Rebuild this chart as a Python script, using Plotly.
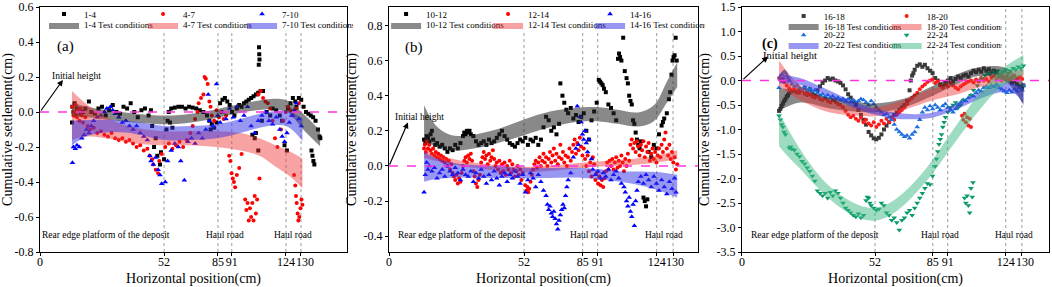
import plotly.graph_objects as go

FONT = "Liberation Serif"

# ---------------- shared axis ticks ----------------
TICK_POS = [0, 52, 74.6, 80.4, 103.1, 109.4]
TICK_TEXT = ["0", "52", "85", "91", "124", "130"]

YT_A = [-0.8, -0.6, -0.4, -0.2, 0.0, 0.2, 0.4, 0.6]
YT_A_TEXT = ["-0.8", "-0.6", "-0.4", "-0.2", "0.0", "0.2", "0.4", "0.6"]
YT_B = [-0.4, -0.2, 0.0, 0.2, 0.4, 0.6, 0.8]
YT_B_TEXT = ["-0.4", "-0.2", "0.0", "0.2", "0.4", "0.6", "0.8"]
YT_C = [-3.5, -3.0, -2.5, -2.0, -1.5, -1.0, -0.5, 0.0, 0.5, 1.0, 1.5]
YT_C_TEXT = ["-3.5", "-3.0", "-2.5", "-2.0", "-1.5", "-1.0", "-0.5", "0.0", "0.5", "1.0", "1.5"]

# ---------------- panel (a) scatter data (position, settlement) ----------------
A_1_4 = [(13.4, -0.06), (13.6, 0.03), (14.0, 0.0), (14.5, 0.05), (15.0, -0.02), (15.5, 0.02), (16.2, 0.01),
         (17.0, -0.01), (18.0, 0.0), (19.0, 0.02), (20.5, 0.06), (21.5, 0.0), (23, -0.01), (24.5, 0.02),
         (26, 0.03), (27.5, -0.02), (29, 0.01), (30.5, 0.04), (32, 0.0), (33.5, -0.01), (35, 0.03),
         (36.5, 0.02), (38, 0.05), (39.5, 0.0), (41, -0.03), (42.5, 0.01), (44, 0.02), (45.5, -0.02),
         (46.5, 0.01), (47, -0.08), (47.8, -0.2), (48.5, -0.15), (49.2, -0.25), (50.3, -0.3), (50.7, -0.23),
         (52, -0.27), (53, -0.1), (53.5, -0.05), (54, 0.0), (54.5, -0.06), (55, 0.02), (55.5, -0.09),
         (56.5, 0.025), (58, 0.03), (59.5, 0.03), (61, 0.02), (62.5, 0.03), (64, 0.025), (65.5, 0.02),
         (67, 0.01), (68.5, 0.0), (70, -0.02), (71, -0.05), (71.5, -0.1), (72, -0.07), (73, -0.09),
         (74, -0.06), (75.5, 0.05), (76.5, 0.07), (77.5, 0.08), (78.5, 0.06), (79.5, 0.04), (80.5, 0.0),
         (81.5, -0.02), (82.5, 0.02), (83.5, 0.04), (84.5, 0.03), (85.5, 0.05), (86.5, 0.06), (87.5, 0.07),
         (88.5, 0.08), (89.5, 0.09), (90.5, 0.1), (91.5, 0.11), (92.5, 0.12), (93.5, 0.12), (91.8, 0.37),
         (91.9, 0.33), (92.0, 0.3), (91.7, 0.27), (89, -0.13), (90, -0.15), (90.5, -0.12), (91.5, -0.22),
         (93, -0.05), (95, 0.0), (96.5, -0.02), (97.5, 0.02), (99, 0.01), (100.5, -0.02), (101.5, -0.05),
         (102.5, -0.19), (103.5, -0.22), (104, 0.02), (105, 0.05), (106, 0.08), (107, 0.06), (107.5, 0.03),
         (108.5, 0.08), (109.5, 0.07), (110.5, 0.03), (111.5, 0.0), (112.5, -0.01), (113.5, -0.02),
         (114.5, -0.03), (115.5, -0.05), (116.5, -0.1), (117.2, -0.14), (117.5, -0.15), (113.8, -0.22),
         (114.2, -0.25), (114.6, -0.28), (115, -0.3)]

A_4_7 = [(13.5, 0.03), (14, -0.02), (14.5, 0.0), (15, 0.04), (15.5, -0.03), (16, 0.01), (16.5, -0.05),
         (17, 0.02), (17.5, -0.02), (18, -0.06), (19, -0.03), (20, -0.08), (21, -0.1), (22.5, -0.09),
         (24, -0.12), (25.5, -0.11), (27, -0.13), (28.5, -0.14), (30, -0.12), (31.5, -0.15), (33, -0.16),
         (34.5, -0.15), (36, -0.17), (37.5, -0.16), (39, -0.18), (40.5, -0.2), (42, -0.19), (43.5, -0.22),
         (45, -0.21), (46, -0.25), (47, -0.27), (47.5, -0.3), (48.5, -0.33), (49.5, -0.35), (50, -0.28),
         (51, -0.24), (52.5, -0.2), (54, -0.18), (55.5, -0.21), (57, -0.19), (58.5, -0.17), (60, -0.2),
         (61.5, -0.16), (63, -0.12), (64, -0.08), (65, -0.04), (66, 0.0), (66.5, 0.05), (67.5, 0.08),
         (68.5, 0.1), (69, 0.2), (69.5, 0.19), (70.3, 0.16), (71, 0.06), (71.5, 0.03), (72, -0.02),
         (73, -0.05), (74, 0.01), (75, -0.03), (76, 0.0), (77, -0.04), (78, -0.02), (79.3, -0.25),
         (79.8, -0.28), (80.3, -0.35), (80.8, -0.38), (81.3, -0.4), (81.8, -0.43), (82.5, -0.36),
         (83.5, -0.32), (84.5, -0.24), (86, -0.5), (86.5, -0.56), (87, -0.52), (87.5, -0.62), (88, -0.55),
         (88.5, -0.6), (89, -0.52), (89.5, -0.62), (90, -0.48), (90.5, -0.58), (91, -0.5), (92, -0.38),
         (91.5, 0.1), (92.5, 0.12), (93.5, 0.08), (94.5, 0.06), (95.5, 0.05), (96.5, 0.02), (97.5, -0.05),
         (98.5, -0.15), (99.5, -0.2), (101, -0.1), (102, -0.05), (103, 0.0), (104, 0.03), (105, 0.01),
         (106, -0.02), (106.5, -0.36), (107, -0.42), (107.3, -0.48), (107.6, -0.52), (108, -0.58),
         (108.3, -0.62), (108.7, -0.6), (109.2, -0.55), (109.6, -0.5), (110, -0.53), (107.5, 0.02),
         (108.5, 0.05)]

A_7_10 = [(13.6, -0.29), (14, -0.2), (14.8, -0.21), (15.5, -0.19), (16.5, -0.2), (17.5, -0.15), (18.5, -0.13),
          (19.5, -0.1), (20.5, -0.12), (21.5, -0.08), (22.5, -0.05), (24, -0.03), (25.5, -0.02), (27, 0.0),
          (28, 0.02), (29.5, 0.03), (30.5, 0.01), (31.5, -0.01), (33, -0.03), (34.5, -0.06), (36, -0.05),
          (37.5, -0.08), (39, -0.1), (40.5, -0.08), (42, -0.12), (43.5, -0.14), (45, -0.16), (46, -0.25),
          (46.5, -0.28), (47.5, -0.3), (48.5, -0.26), (49.5, -0.33), (50.3, -0.36), (51, -0.41),
          (52.5, -0.4), (53.5, -0.28), (55, -0.22), (56.5, -0.18), (58, -0.2), (59, -0.28), (60.5, -0.39),
          (62, -0.17), (63.5, -0.15), (65, -0.18), (66.5, -0.12), (68, -0.15), (69.5, -0.1), (70.5, 0.1),
          (71, -0.05), (72.5, -0.08), (74, 0.16), (74.5, -0.02), (75.5, -0.06), (76.5, 0.0), (78, -0.04),
          (79.5, 0.02), (81, -0.03), (82.5, 0.03), (84, -0.05), (85.5, -0.02), (87, 0.03), (88.5, -0.08),
          (90, -0.12), (91.5, -0.05), (93, -0.02), (94.5, 0.0), (96, -0.05), (97.5, -0.07), (99, -0.03),
          (100.5, -0.1), (101.5, -0.14), (102.5, -0.17), (103.5, -0.12), (104.5, -0.06), (105.5, -0.02),
          (106.5, 0.01), (107.5, 0.05), (108.5, -0.04), (109.5, -0.08)]

# panel (a) fitted bands
BAND_A_GRAY_X = [13.4, 20, 30, 40, 50, 60, 70, 80, 90, 97, 104, 110, 117.4]
BAND_A_GRAY_LO = [-0.025, -0.03, -0.047, -0.06, -0.07, -0.065, -0.045, -0.015, 0.008, 0.015, -0.003, -0.095, -0.195]
BAND_A_GRAY_HI = [0.055, 0.03, 0.007, -0.01, -0.02, -0.015, 0.005, 0.035, 0.062, 0.075, 0.063, -0.005, -0.105]
BAND_A_RED_X = [13.4, 20, 30, 40, 52, 63, 74, 84, 92, 98, 104, 110]
BAND_A_RED_LO = [-0.16, -0.14, -0.155, -0.18, -0.19, -0.19, -0.2, -0.22, -0.25, -0.305, -0.36, -0.435]
BAND_A_RED_HI = [0.12, 0.04, -0.045, -0.09, -0.11, -0.11, -0.11, -0.12, -0.15, -0.185, -0.22, -0.265]
BAND_A_BLUE_X = [13.4, 20, 30, 40, 52, 63, 74, 84, 92, 98, 104, 110]
BAND_A_BLUE_LO = [-0.19, -0.135, -0.115, -0.125, -0.16, -0.16, -0.15, -0.12, -0.09, -0.075, -0.085, -0.165]
BAND_A_BLUE_HI = [-0.05, -0.045, -0.045, -0.055, -0.08, -0.08, -0.07, -0.04, -0.01, 0.005, 0.005, -0.035]

# ---------------- panel (b) scatter data ----------------
B_10_12 = [(13.5, 0.15), (14, 0.13), (14.5, 0.17), (15, 0.16), (15.5, 0.14), (16, 0.18), (16.5, 0.2), (17, 0.15),
           (17.8, 0.12), (18.5, 0.13), (19.5, 0.11), (20.5, 0.12), (21.5, 0.1), (22.5, 0.08), (23.5, 0.1),
           (24.5, 0.09), (25.5, 0.12), (26.5, 0.1), (27.5, 0.13), (28.5, 0.17), (29, 0.19), (29.5, 0.18),
           (30, 0.2), (30.5, 0.19), (31, 0.2), (31.5, 0.18), (32.5, 0.17), (33.5, 0.14), (34.5, 0.12),
           (35.5, 0.13), (36.5, 0.14), (37.5, 0.12), (38.5, 0.15), (39.5, 0.13), (40.5, 0.14), (41.5, 0.16),
           (42.5, 0.18), (43.5, 0.2), (44.5, 0.17), (45.5, 0.15), (46.5, 0.13), (47.5, 0.12), (48.5, 0.11),
           (49.5, 0.13), (50.5, 0.15), (51.5, 0.14), (52.5, 0.16), (53.5, 0.12), (54.5, 0.15), (55.5, 0.14),
           (56.5, 0.16), (57.5, 0.12), (58.5, 0.15), (59.5, 0.22), (60.5, 0.28), (61.5, 0.26), (62.5, 0.2),
           (63.5, 0.22), (64.5, 0.18), (65.5, 0.24), (66, 0.47), (66.8, 0.4), (67.5, 0.36), (68.3, 0.32),
           (69, 0.3), (70, 0.33), (71, 0.27), (72, 0.29), (73, 0.25), (74, 0.28), (75, 0.3), (76, 0.2),
           (77, 0.15), (78, 0.26), (79, 0.31), (80, 0.36), (80.8, 0.49), (81.3, 0.48), (81.8, 0.47),
           (82.3, 0.46), (82.8, 0.44), (83.5, 0.42), (84.5, 0.35), (85.5, 0.33), (86.5, 0.3), (87.5, 0.26),
           (88.2, 0.61), (88.6, 0.64), (89, 0.62), (89.5, 0.6), (90.2, 0.73), (90.8, 0.54), (91.5, 0.5),
           (92, 0.47), (92.5, 0.4), (93, 0.37), (93.5, 0.35), (94, 0.26), (94.5, 0.24), (95, 0.19),
           (95.5, 0.15), (96, 0.12), (96.5, 0.1), (97, 0.14), (98, -0.18), (98.5, -0.2), (99, -0.23),
           (99.5, -0.19), (100, 0.08), (101, 0.05), (102, 0.12), (103, 0.1), (104, 0.18), (105, 0.23),
           (105.5, 0.25), (106, 0.27), (107, 0.3), (107.8, 0.38), (108.3, 0.42), (108.8, 0.52), (109.2, 0.6),
           (109.6, 0.62), (110, 0.63), (110.4, 0.73), (110.8, 0.6)]

B_12_14 = [(13.5, 0.1), (13.8, 0.12), (14.2, 0.08), (14.6, 0.14), (15, 0.1), (15.5, 0.12), (16, 0.09), (16.5, 0.07),
           (17, 0.1), (17.5, 0.06), (18, 0.08), (18.5, 0.05), (19, 0.07), (19.5, 0.04), (20, 0.06), (20.5, 0.03),
           (21, 0.05), (21.5, 0.02), (22, 0.04), (22.5, 0.0), (23, 0.03), (23.5, -0.02), (24, 0.01), (24.5, -0.04),
           (25, -0.06), (25.5, -0.08), (26, -0.05), (26.5, -0.1), (27, -0.07), (27.5, -0.09), (28, -0.04),
           (28.5, 0.0), (29, 0.03), (29.5, 0.05), (30, 0.02), (30.5, 0.06), (31, 0.04), (31.5, 0.07), (32, 0.03),
           (32.5, -0.03), (33, -0.06), (33.5, -0.1), (34, -0.12), (34.5, -0.08), (35, -0.05), (35.5, 0.02),
           (36, 0.05), (36.5, 0.08), (37, 0.04), (37.5, 0.06), (38, 0.01), (38.5, 0.07), (39, 0.03), (39.5, 0.05),
           (40, 0.09), (40.5, 0.04), (41, 0.0), (41.5, 0.02), (42, -0.02), (42.5, 0.03), (43, -0.04), (43.5, 0.01),
           (44, -0.03), (44.5, 0.02), (45, -0.05), (45.5, 0.0), (46, -0.02), (46.5, 0.03), (47, -0.04),
           (47.5, 0.01), (48, -0.02), (48.5, -0.06), (49, -0.03), (49.5, 0.0), (50, -0.05), (50.5, -0.02),
           (51, -0.08), (51.5, -0.04), (52.5, -0.11), (53, -0.14), (53.3, -0.12), (53.6, -0.15), (54, -0.13),
           (54.5, -0.09), (55, -0.05), (55.5, -0.02), (56, 0.01), (56.5, 0.03), (57, -0.01), (57.5, 0.02),
           (58, 0.05), (58.5, 0.0), (59, 0.03), (59.5, 0.07), (60, 0.02), (60.5, 0.05), (61, 0.0), (61.5, 0.04),
           (62, 0.08), (62.5, 0.02), (63, 0.06), (63.5, 0.1), (64, 0.03), (64.5, 0.07), (65, 0.01), (65.5, 0.05),
           (66, 0.12), (66.5, 0.04), (67, 0.08), (67.5, 0.02), (68, 0.06), (68.5, 0.0), (69, 0.05), (69.5, 0.1),
           (70, 0.03), (70.5, 0.08), (71, 0.12), (71.5, 0.15), (72, 0.07), (72.5, 0.13), (73, 0.09), (73.5, 0.16),
           (74, 0.11), (74.5, 0.06), (75, 0.1), (75.5, 0.04), (76, 0.0), (76.5, 0.06), (77, -0.03), (77.5, 0.02),
           (78, -0.06), (78.5, 0.05), (79, 0.01), (79.5, -0.08), (80, -0.04), (80.5, -0.1), (81, -0.06),
           (81.5, -0.11), (82, -0.08), (82.5, -0.12), (83, -0.07), (83.5, -0.03), (84, 0.02), (84.5, -0.02),
           (85, 0.03), (85.5, 0.0), (86, 0.04), (86.5, -0.02), (87, 0.02), (87.5, 0.05), (88, -0.01), (88.5, 0.03),
           (89, 0.0), (89.5, 0.06), (90, 0.02), (90.5, -0.03), (91, 0.04), (91.5, 0.0), (92, 0.07), (92.5, 0.03),
           (93, 0.12), (93.5, 0.15), (94, 0.1), (94.5, 0.13), (95, 0.08), (95.5, 0.14), (96, 0.11), (96.5, 0.06),
           (97, 0.12), (97.5, 0.09), (98, 0.14), (98.5, 0.05), (99, 0.11), (99.5, 0.08), (100, 0.13),
           (100.5, 0.03), (101, 0.07), (101.5, 0.1), (102, 0.04), (102.5, 0.08), (103, 0.02), (103.5, 0.06),
           (104, 0.1), (104.5, 0.05), (105, 0.12), (105.5, 0.08), (106, 0.15), (106.5, 0.19), (107, 0.1),
           (107.5, 0.06), (108, 0.12), (108.5, 0.04), (109, 0.08), (109.5, 0.02), (110, 0.05), (110.5, -0.02),
           (111, 0.01)]

B_14_16 = [(13.5, -0.15), (14, -0.05), (14.5, 0.02), (15, -0.02), (15.5, 0.0), (16.5, -0.03), (17.5, -0.01),
           (18.5, -0.07), (19.5, -0.04), (20.5, -0.02), (21.5, -0.06), (22.5, 0.0), (23.5, -0.03), (24.5, -0.05),
           (25.5, -0.01), (26.5, -0.04), (27.5, -0.08), (28.5, -0.02), (29.5, -0.05), (30.5, -0.06),
           (31.5, -0.03), (32.5, -0.09), (33.5, -0.04), (34.5, -0.07), (35.5, -0.02), (36.5, -0.06), (37.5, -0.1),
           (38.5, -0.05), (39.5, -0.08), (40.5, -0.03), (41.5, -0.07), (42.5, -0.11), (43.5, -0.06),
           (44.5, -0.04), (45.5, -0.09), (46.5, -0.05), (47.5, -0.07), (48.5, -0.03), (49.5, -0.06), (50.5, -0.1),
           (51.5, -0.05), (52.5, -0.15), (53.5, -0.08), (54.5, -0.04), (55.5, -0.07), (56.5, -0.12),
           (57.5, -0.05), (58.5, -0.09), (59.5, -0.14), (60.5, -0.17), (61, -0.22), (61.5, -0.25), (62, -0.23),
           (62.5, -0.27), (63, -0.29), (63.5, -0.26), (64, -0.3), (64.5, -0.33), (65, -0.36), (65.5, -0.31),
           (66, -0.28), (66.5, -0.25), (67, -0.22), (67.5, -0.24), (68, -0.17), (68.5, -0.12), (69, -0.08),
           (70, -0.04), (71, 0.05), (72, 0.1), (72.5, 0.34), (73, 0.12), (73.5, 0.28), (74, 0.25), (74.5, 0.18),
           (75, 0.15), (75.5, 0.2), (76, 0.13), (76.5, 0.08), (77, 0.15), (78, 0.04), (78.5, -0.02), (79.5, -0.05),
           (80.5, -0.03), (81.5, -0.07), (82.5, -0.04), (83.5, -0.06), (84.5, -0.02), (85.5, -0.08),
           (86.5, -0.05), (87.5, -0.03), (88.5, -0.07), (89.5, -0.1), (90.5, -0.12), (91, -0.15), (91.5, -0.2),
           (92, -0.23), (92.5, -0.18), (93, -0.26), (93.5, -0.29), (94, -0.22), (94.5, -0.34), (95, -0.2),
           (95.5, -0.14), (96, -0.09), (97, -0.06), (98, -0.1), (99, -0.05), (100, -0.08), (101, -0.12),
           (102, -0.06), (103, -0.1), (104, -0.14), (105, -0.08), (106, -0.12), (107, -0.16), (108, -0.09),
           (109, -0.13), (110, -0.07), (110.5, -0.15)]

BAND_B_GRAY_X = [13.5, 18, 23, 28, 35, 42, 52, 62, 72, 80, 88, 96, 102, 107, 111]
BAND_B_GRAY_LO = [0.145, 0.11, 0.09, 0.09, 0.105, 0.13, 0.175, 0.22, 0.25, 0.255, 0.24, 0.225, 0.255, 0.36, 0.45]
BAND_B_GRAY_HI = [0.345, 0.23, 0.18, 0.17, 0.185, 0.21, 0.265, 0.31, 0.33, 0.335, 0.32, 0.305, 0.345, 0.48, 0.59]
BAND_B_RED_X = [13.5, 20, 28, 35, 45, 55, 65, 75, 85, 95, 103, 111]
BAND_B_RED_LO = [0.045, 0.022, 0.0, -0.015, -0.03, -0.035, -0.025, -0.01, 0.0, 0.007, 0.02, 0.04]
BAND_B_RED_HI = [0.095, 0.058, 0.03, 0.015, 0.0, -0.005, 0.005, 0.02, 0.03, 0.043, 0.06, 0.09]
BAND_B_BLUE_X = [13.5, 18, 25, 35, 45, 52, 62, 75, 89, 96, 103, 111]
BAND_B_BLUE_LO = [-0.09, -0.075, -0.067, -0.067, -0.069, -0.07, -0.068, -0.068, -0.09, -0.108, -0.135, -0.18]
BAND_B_BLUE_HI = [0.08, 0.045, 0.017, 0.003, -0.005, -0.01, -0.012, -0.012, -0.03, -0.032, -0.035, -0.05]

# ---------------- panel (c) scatter data ----------------
C_16_18 = [(14.5, -0.62), (15, -0.58), (15.5, -0.52), (16, -0.47), (16.5, -0.42), (17, -0.38), (17.5, -0.33),
           (18, -0.3), (18.5, -0.25), (19.5, -0.22), (20.5, -0.2), (21.5, -0.24), (22.5, -0.18), (23.5, -0.2),
           (24.5, -0.15), (25.5, -0.22), (26.5, -0.18), (27.5, -0.25), (28.5, -0.3), (29.5, -0.2), (30.5, -0.12),
           (31.5, -0.05), (32.5, 0.0), (33.5, 0.05), (34.5, 0.02), (35.5, 0.04), (36.5, 0.0), (37.5, -0.02),
           (38.5, -0.05), (39.5, -0.1), (40.5, -0.18), (41.5, -0.28), (42.5, -0.35), (43.5, -0.42), (44.5, -0.5),
           (45.5, -0.6), (46.5, -0.7), (47.5, -0.8), (48.5, -0.9), (49.5, -1.05), (50.5, -1.12), (51.5, -1.18),
           (52.5, -1.2), (53.5, -1.17), (54.5, -1.1), (55.5, -1.0), (56.5, -0.92), (57.5, -0.85), (58.5, -0.78),
           (59.5, -0.7), (60.5, -0.65), (61.5, -0.6), (62.5, -0.55), (63.5, -0.5), (64.5, -0.42), (65.5, -0.2),
           (66, 0.0), (66.5, 0.1), (67, 0.15), (67.5, 0.22), (68.5, 0.3), (69.5, 0.33), (70.5, 0.28),
           (71.5, 0.32), (72.5, 0.25), (73.5, 0.2), (74.5, 0.15), (75.5, 0.05), (76.5, 0.0), (77.5, -0.08),
           (78.5, -0.12), (79.5, -0.05), (80.5, 0.0), (81.5, 0.05), (82.5, -0.02), (83.5, 0.03), (84.5, 0.08),
           (85.5, 0.05), (86.5, 0.1), (87.5, 0.12), (88.5, 0.08), (89.5, 0.15), (90.5, 0.2), (91.5, 0.17),
           (92.5, 0.22), (93.5, 0.18), (94.5, 0.25), (95.5, 0.2), (96.5, 0.23), (97.5, 0.18), (98.5, 0.2),
           (99.5, 0.15), (100.5, 0.12), (101.5, 0.08), (102.5, 0.05), (103.5, 0.02), (104.5, 0.0), (105.5, -0.05),
           (106.5, -0.02), (107.5, -0.08), (108.5, -0.12), (109.5, -0.15), (110, -0.1)]

C_18_20 = [(14.5, 0.05), (15, 0.02), (15.5, 0.0), (16, 0.04), (16.5, -0.03), (17.5, -0.1), (18.5, -0.16),
           (19.5, -0.2), (20.5, -0.18), (21.5, -0.22), (22.5, -0.25), (23.5, -0.2), (24.5, -0.27), (25.5, -0.3),
           (26.5, -0.28), (27.5, -0.33), (28.5, -0.35), (29.5, -0.32), (30.5, -0.38), (31.5, -0.4), (32.5, -0.36),
           (33.5, -0.42), (34.5, -0.45), (35.5, -0.4), (36.5, -0.44), (37.5, -0.48), (38.5, -0.5), (39.5, -0.55),
           (40.5, -0.62), (41.5, -0.7), (42.5, -0.75), (43.5, -0.72), (44.5, -0.78), (45.5, -0.82), (46.5, -0.76),
           (47.5, -0.85), (48.5, -0.8), (49.5, -0.88), (50.5, -0.92), (51.5, -0.85), (52.5, -0.95), (53.5, -0.9),
           (54.5, -0.82), (55.5, -0.88), (56.5, -0.78), (57.5, -0.85), (58.5, -0.75), (59.5, -0.8), (60.5, -0.7),
           (61.5, -0.65), (62.5, -0.6), (63.5, -0.55), (64.5, -0.48), (65.5, -0.4), (66.5, -0.35), (67.5, -0.3),
           (68.5, -0.25), (69.5, -0.18), (70.5, -0.12), (71.5, -0.08), (72.5, -0.03), (73.5, 0.0), (74.5, 0.02),
           (75.5, -0.05), (76.5, -0.02), (77.5, -0.1), (78.5, -0.15), (79.5, -0.08), (80.5, -0.12), (81.5, -0.05),
           (82.5, -0.1), (83.5, -0.15), (84.5, -0.18), (85.5, -0.12), (86.5, -0.08), (86, -0.72), (86.5, -0.8),
           (87, -0.68), (87.5, -0.85), (88, -0.75), (88.5, -0.92), (89, -0.78), (89.5, -0.95), (87.5, -0.05),
           (88.5, -0.02), (89.5, 0.0), (90.5, -0.04), (91.5, 0.02), (92.5, -0.02), (93.5, 0.05), (94.5, 0.0),
           (95.5, 0.03), (96.5, -0.02), (97.5, 0.05), (98.5, 0.08), (99.5, 0.02), (100.5, 0.06), (101.5, 0.0),
           (102.5, 0.04), (103.5, 0.08), (104.5, 0.02), (105.5, 0.06), (106.5, 0.1), (107.5, 0.04), (108.5, 0.07),
           (109.5, 0.03)]

C_20_22 = [(14.5, -0.15), (15, 0.05), (15.5, 0.12), (16, 0.15), (16.5, 0.18), (17, 0.16), (17.5, 0.1), (18, 0.05),
           (18.5, 0.0), (19.5, -0.08), (20.5, -0.12), (21.5, -0.1), (22.5, -0.15), (23.5, -0.18), (24.5, -0.14),
           (25.5, -0.2), (26.5, -0.17), (27.5, -0.22), (28.5, -0.2), (29.5, -0.25), (30.5, -0.3), (31.5, -0.28),
           (32.5, -0.33), (33.5, -0.3), (34.5, -0.35), (35.5, -0.32), (36.5, -0.38), (37.5, -0.35), (38.5, -0.4),
           (39.5, -0.37), (40.5, -0.42), (41.5, -0.38), (42.5, -0.44), (43.5, -0.4), (44.5, -0.45), (45.5, -0.42),
           (46.5, -0.38), (47.5, -0.4), (48.5, -0.45), (49.5, -0.5), (50.5, -0.42), (51.5, -0.48), (52.5, -0.55),
           (53.5, -0.6), (54.5, -0.65), (55.5, -0.7), (56.5, -0.68), (57.5, -0.75), (58.5, -0.8), (59.5, -0.9),
           (60.5, -1.0), (61.5, -1.05), (62.5, -1.1), (63.5, -1.15), (64.5, -1.12), (65.5, -1.18), (66.5, -1.1),
           (67.5, -1.05), (68.5, -0.95), (69.5, -0.8), (70.5, -0.65), (71.5, -0.55), (72.5, -0.6), (73.5, -0.52),
           (74.5, -0.58), (75.5, -0.5), (76.5, -0.55), (77.5, -0.6), (78.5, -0.52), (79.5, -0.48), (80.5, -0.55),
           (81.5, -0.6), (82.5, -0.65), (83.5, -0.58), (84.5, -0.5), (85.5, -0.45), (86.5, -0.4), (87.5, -0.42),
           (88.5, -0.35), (89.5, -0.3), (90.5, -0.32), (91.5, -0.25), (92.5, -0.2), (93.5, -0.22), (94.5, -0.15),
           (95.5, -0.12), (96.5, -0.15), (97.5, -0.1), (98.5, -0.12), (99.5, -0.08), (100.5, -0.15),
           (101.5, -0.18), (102.5, -0.22), (103.5, -0.25), (104.5, -0.2), (105.5, -0.24), (106.5, -0.18),
           (107.5, -0.22), (108.5, -0.15), (109.5, -0.2), (110, -0.1)]

C_22_24 = [(14.5, -0.72), (15, -0.8), (15.5, -0.9), (16, -0.95), (16.5, -1.05), (17, -1.1), (18.5, -1.38),
           (19, -1.35), (19.5, -1.4), (20.5, -1.42), (21.5, -1.5), (22.5, -1.55), (23.5, -1.65), (24.5, -1.7),
           (25.5, -1.78), (26.5, -1.85), (27.5, -1.95), (28.5, -2.05), (29.5, -2.25), (30.5, -2.3), (31.5, -2.35),
           (32.5, -2.3), (33.5, -2.4), (34.5, -2.28), (35.5, -2.35), (36.5, -2.25), (37.5, -2.3), (38.5, -2.4),
           (39.5, -2.5), (40.5, -2.6), (41.5, -2.65), (42.5, -2.7), (43.5, -2.75), (44.5, -2.78), (45.5, -2.72),
           (46.5, -2.8), (47.5, -2.75), (48.5, -2.45), (49, -2.38), (49.5, -2.4), (50, -2.5), (50.5, -2.55),
           (51.5, -2.6), (52.5, -2.65), (53.5, -2.62), (54.5, -2.5), (55.5, -2.55), (56.5, -2.7), (57.5, -2.75),
           (58.5, -2.85), (59.5, -2.8), (60.5, -2.9), (61.5, -3.05), (62.5, -2.85), (63.5, -2.8), (64.5, -2.7),
           (65.5, -2.65), (66.5, -2.75), (67.5, -2.6), (68.5, -2.5), (69.5, -2.4), (70.5, -2.3), (71.5, -2.2),
           (72.5, -2.1), (73.5, -2.12), (74.5, -1.95), (75.5, -1.75), (76, -1.6), (76.5, -1.45), (77, -1.3),
           (77.5, -1.2), (78, -1.1), (78.5, -0.95), (79, -0.85), (79.5, -0.75), (80.5, -0.65), (81.5, -0.55),
           (82.5, -0.5), (83.5, -0.45), (84.5, -0.55), (85.5, -0.5), (86.5, -0.4), (87, -2.4), (87.5, -2.5),
           (88, -2.35), (88.5, -2.55), (89, -2.7), (89.5, -2.2), (90, -2.38), (90.3, -2.08), (89.5, -0.3),
           (90.5, -0.2), (92, -0.1), (93, 0.0), (94, 0.05), (95, 0.1), (96, 0.15), (97, 0.12), (98, 0.18),
           (99, 0.15), (100, 0.2), (101, 0.12), (102, 0.18), (103, 0.22), (104, 0.15), (105, 0.2), (106, 0.25),
           (107, 0.22), (108, 0.28), (109, 0.25), (110, 0.3)]

BAND_C_GRAY_X = [14.5, 22.7, 34.4, 45, 52, 62, 75, 85, 93, 103, 110]
BAND_C_GRAY_LO = [-0.62, -0.45, -0.57, -0.64, -0.65, -0.57, -0.3, -0.05, 0.09, -0.02, -0.5]
BAND_C_GRAY_HI = [-0.16, -0.21, -0.35, -0.44, -0.47, -0.39, -0.1, 0.15, 0.27, 0.26, -0.06]
BAND_C_RED_X = [14.5, 22.7, 34, 46, 52, 62, 75, 85, 93, 103, 110]
BAND_C_RED_LO = [-0.11, -0.4, -0.65, -0.72, -0.73, -0.62, -0.4, -0.27, -0.14, -0.04, 0.03]
BAND_C_RED_HI = [0.41, -0.1, -0.41, -0.54, -0.55, -0.42, -0.16, -0.05, 0.06, 0.16, 0.23]
BAND_C_BLUE_X = [14.5, 22.7, 34, 44, 52, 60, 68, 75, 85, 93, 101, 106, 110]
BAND_C_BLUE_LO = [-0.06, -0.09, -0.32, -0.56, -0.7, -0.78, -0.79, -0.75, -0.56, -0.37, -0.24, -0.25, -0.47]
BAND_C_BLUE_HI = [0.14, 0.05, -0.2, -0.44, -0.58, -0.66, -0.69, -0.65, -0.44, -0.23, -0.06, -0.05, -0.17]
BAND_C_GREEN_X = [14.5, 18, 22.7, 28, 34, 40, 46, 52, 58, 64, 70, 75, 80, 85, 93, 101, 110]
BAND_C_GREEN_LO = [-1.34, -1.55, -1.8, -2.1, -2.41, -2.65, -2.81, -2.86, -2.75, -2.51, -2.18, -1.86, -1.5, -1.14,
                   -0.59, -0.15, 0.12]
BAND_C_GREEN_HI = [-0.66, -0.99, -1.4, -1.8, -2.15, -2.39, -2.55, -2.6, -2.49, -2.25, -1.92, -1.58, -1.2, -0.82,
                   -0.25, 0.21, 0.52]

# ---------------- figure ----------------
fig = go.Figure()


def add_points(pairs, name, color, symbol, size, ax, legend, lw):
    fig.add_trace(go.Scatter(
        x=[p[0] for p in pairs], y=[p[1] for p in pairs], mode="markers", name=name,
        marker=dict(color=color, symbol=symbol, size=size, line=dict(width=0)),
        xaxis="x" + ax, yaxis="y" + ax, legend=legend, legendwidth=lw, hoverinfo="skip"))


def add_band(xs, lo, hi, name, fillcolor, ax, legend, lw):
    fig.add_trace(go.Scatter(
        x=xs, y=lo, mode="lines", line=dict(width=0, shape="spline", smoothing=1.0),
        showlegend=False, xaxis="x" + ax, yaxis="y" + ax, hoverinfo="skip"))
    fig.add_trace(go.Scatter(
        x=xs, y=hi, mode="lines", line=dict(width=0, shape="spline", smoothing=1.0),
        fill="tonexty", fillcolor=fillcolor, name=name, legendwidth=lw,
        xaxis="x" + ax, yaxis="y" + ax, legend=legend, hoverinfo="skip"))


GRAY_F = "rgba(40,40,40,0.55)"
RED_F = "rgba(240,50,50,0.45)"
BLUE_F = "rgba(50,50,230,0.5)"
GREEN_F = "rgba(60,185,130,0.5)"

# panel a
add_points(A_1_4, "1-4", "#000000", "square", 4, "", "legend", 54)
add_points(A_4_7, "4-7", "#ff0000", "circle", 4, "", "legend", 54)
add_points(A_7_10, "7-10", "#0000ff", "triangle-up", 5, "", "legend", 66)
add_band(BAND_A_GRAY_X, BAND_A_GRAY_LO, BAND_A_GRAY_HI, "1-4 Test conditions", GRAY_F, "", "legend2", 54)
add_band(BAND_A_RED_X, BAND_A_RED_LO, BAND_A_RED_HI, "4-7 Test conditions", RED_F, "", "legend2", 54)
add_band(BAND_A_BLUE_X, BAND_A_BLUE_LO, BAND_A_BLUE_HI, "7-10 Test conditions", BLUE_F, "", "legend2", 66)

# panel b
add_points(B_10_12, "10-12", "#000000", "square", 4, "2", "legend3", 57)
add_points(B_12_14, "12-14", "#ff0000", "circle", 4, "2", "legend3", 57)
add_points(B_14_16, "14-16", "#0000ff", "triangle-up", 5, "2", "legend3", 70)
add_band(BAND_B_GRAY_X, BAND_B_GRAY_LO, BAND_B_GRAY_HI, "10-12 Test conditions", GRAY_F, "2", "legend4", 57)
add_band(BAND_B_RED_X, BAND_B_RED_LO, BAND_B_RED_HI, "12-14 Test conditions", RED_F, "2", "legend4", 57)
add_band(BAND_B_BLUE_X, BAND_B_BLUE_LO, BAND_B_BLUE_HI, "14-16 Test conditions", BLUE_F, "2", "legend4", 70)

# panel c
add_points(C_16_18, "16-18", "#3a3a3a", "square", 4, "3", "legend5", 58)
add_points(C_18_20, "18-20", "#ff1a1a", "circle", 4, "3", "legend5", 70)
add_points(C_20_22, "20-22", "#1f6fe0", "triangle-up", 5, "3", "legend7", 58)
add_points(C_22_24, "22-24", "#0a9a68", "triangle-down", 5, "3", "legend7", 70)
add_band(BAND_C_GRAY_X, BAND_C_GRAY_LO, BAND_C_GRAY_HI, "16-18 Test conditions", GRAY_F, "3", "legend6", 58)
add_band(BAND_C_RED_X, BAND_C_RED_LO, BAND_C_RED_HI, "18-20 Test conditions", RED_F, "3", "legend6", 70)
add_band(BAND_C_BLUE_X, BAND_C_BLUE_LO, BAND_C_BLUE_HI, "20-22 Test conditions", BLUE_F, "3", "legend8", 58)
add_band(BAND_C_GREEN_X, BAND_C_GREEN_LO, BAND_C_GREEN_HI, "22-24 Test conditions", GREEN_F, "3", "legend8", 70)

# placeholder traces (no drawn marks) so the overlay axes carrying the "130" label are rendered
for xa, ya in [("x4", "y"), ("x5", "y2"), ("x6", "y3")]:
    fig.add_trace(go.Scatter(x=TICK_POS[-1:], y=[None], mode="markers", marker=dict(opacity=0),
                             showlegend=False, hoverinfo="skip", xaxis=xa, yaxis=ya))

tickfont = dict(family=FONT, size=12, color="black")
titlefont = dict(family=FONT, size=14, color="black")


def xaxis(domain, rng, anchor):
    # all ticks except the last one ("130"), which sits on an overlay axis nudged right
    return dict(domain=domain, range=rng, anchor=anchor, tickvals=TICK_POS[:-1], ticktext=TICK_TEXT[:-1],
                tickangle=0, ticks="outside", ticklen=3, tickcolor="black", showline=True, linecolor="black",
                linewidth=1, mirror=True, showgrid=False, zeroline=False, tickfont=tickfont,
                ticklabelstandoff=-4,
                title=dict(text="Horizontal position(cm)", font=titlefont, standoff=7), automargin=False)


def xaxis_last(domain, rng, anchor, over, shift):
    return dict(domain=domain, range=rng, anchor=anchor, overlaying=over, tickvals=TICK_POS[-1:],
                ticktext=TICK_TEXT[-1:], tickangle=0, ticks="outside", ticklen=3, tickcolor="black",
                showline=False, showgrid=False, zeroline=False, tickfont=tickfont, side="bottom",
                ticklabelstandoff=-4, ticklabelshift=shift, automargin=False, fixedrange=True)


def yaxis(rng, tv, tt, anchor):
    return dict(domain=[0, 1], range=rng, anchor=anchor, tickvals=tv, ticktext=tt, tickangle=0,
                ticks="outside", ticklen=3, tickcolor="black", showline=True, linecolor="black",
                linewidth=1, mirror=True, showgrid=False, zeroline=False, tickfont=tickfont,
                title=dict(text="Cumulative settlement(cm)", font=titlefont, standoff=3), automargin=False)


legfont = dict(family=FONT, size=9, color="black")


def leg(x, y):
    return dict(x=x, y=y, xanchor="left", yanchor="middle", orientation="h",
                entrywidthmode="pixels", bgcolor="rgba(0,0,0,0)", font=legfont, tracegroupgap=0,
                itemwidth=30, traceorder="normal")


shapes = []
panels = [("", [0.9] * 5), ("2", [0.907] * 5), ("3", [0.82, 0.82, 0.82, 1.0, 1.0])]
for ax, tops in panels:
    for pos, top in zip(TICK_POS[1:], tops):
        shapes.append(dict(type="line", xref="x" + ax, yref="y" + ax + " domain", x0=pos, x1=pos, y0=0, y1=top,
                           line=dict(color="#9a9a9a", width=1, dash="dot"), layer="below"))
    shapes.append(dict(type="line", xref="x" + ax + " domain", yref="y" + ax, x0=0, x1=1, y0=0, y1=0,
                       line=dict(color="#ff33dd", width=1.6, dash="dash"), layer="above"))

annfont = dict(family=FONT, size=9.5, color="black")
annotations = []
# panel labels
for ax, lab, xf, yf, sz in [("", "(a)", 0.049, 0.882, 15), ("2", "(b)", 0.045, 0.878, 15),
                            ("3", "<b>(c)</b>", 0.059, 0.89, 14)]:
    annotations.append(dict(xref="x" + ax + " domain", yref="y" + ax + " domain", x=xf, y=yf, text=lab,
                            showarrow=False, font=dict(family=FONT, size=sz, color="black")))
# initial height arrows
for ax, hx, hy, tx, ty, fs in [("", 9.6, 0.183, 15.3, 0.206, 9.5), ("2", 7.3, 0.248, 11.9, 0.276, 9.5),
                               ("3", 10.2, 0.49, 18.8, 0.51, 10.5)]:
    annotations.append(dict(xref="x" + ax, yref="y" + ax, x=hx, y=hy, ax=0, ay=0, axref="x" + ax,
                            ayref="y" + ax, text="", showarrow=True, arrowhead=2, arrowsize=1,
                            arrowwidth=1.2, arrowcolor="black"))
    annotations.append(dict(xref="x" + ax, yref="y" + ax, x=tx, y=ty, text="Initial height", showarrow=False,
                            font=dict(family=FONT, size=fs, color="black")))
# bottom labels
for ax, rx, h1, h2 in [("", 27.7, 77.6, 106.1), ("2", 28.1, 77.0, 105.9), ("3", 28.5, 77.4, 106.3)]:
    annotations.append(dict(xref="x" + ax, yref="y" + ax + " domain", x=rx, y=0.04,
                            text="Rear edge platform of the deposit", showarrow=False, font=annfont))
    for hx in (h1, h2):
        annotations.append(dict(xref="x" + ax, yref="y" + ax + " domain", x=hx, y=0.04, text="Haul road",
                                showarrow=False, font=annfont))

DOM_A, DOM_B, DOM_C = [0, 0.3043], [0.3459, 0.6521], [0.6957, 1.0]
RNG_A, RNG_B, RNG_C = [0, 128.7], [0, 119], [0, 120]

fig.update_layout(
    width=1052, height=287, margin=dict(l=40, r=3, t=7, b=35, autoexpand=False),
    paper_bgcolor="white", plot_bgcolor="white",
    font=dict(family=FONT, color="black"),
    xaxis=xaxis(DOM_A, RNG_A, "y"),
    yaxis=yaxis([-0.8, 0.6], YT_A, YT_A_TEXT, "x"),
    xaxis2=xaxis(DOM_B, RNG_B, "y2"),
    yaxis2=yaxis([-0.49, 0.905], YT_B, YT_B_TEXT, "x2"),
    xaxis3=xaxis(DOM_C, RNG_C, "y3"),
    yaxis3=yaxis([-3.5, 1.5], YT_C, YT_C_TEXT, "x3"),
    xaxis4=xaxis_last(DOM_A, RNG_A, "y", "x", 4),
    xaxis5=xaxis_last(DOM_B, RNG_B, "y2", "x2", 2),
    xaxis6=xaxis_last(DOM_C, RNG_C, "y3", "x3", 3),
    legend=leg(0.004, 0.971),
    legend2=leg(0.004, 0.927),
    legend3=leg(0.343, 0.971),
    legend4=leg(0.343, 0.927),
    legend5=leg(0.737, 0.963),
    legend6=leg(0.737, 0.922),
    legend7=leg(0.737, 0.886),
    legend8=leg(0.737, 0.845),
    shapes=shapes,
    annotations=annotations,
)

fig.write_html("out.html", config={"displayModeBar": False},
               post_script="document.body.style.margin='0';document.body.style.padding='0';")
